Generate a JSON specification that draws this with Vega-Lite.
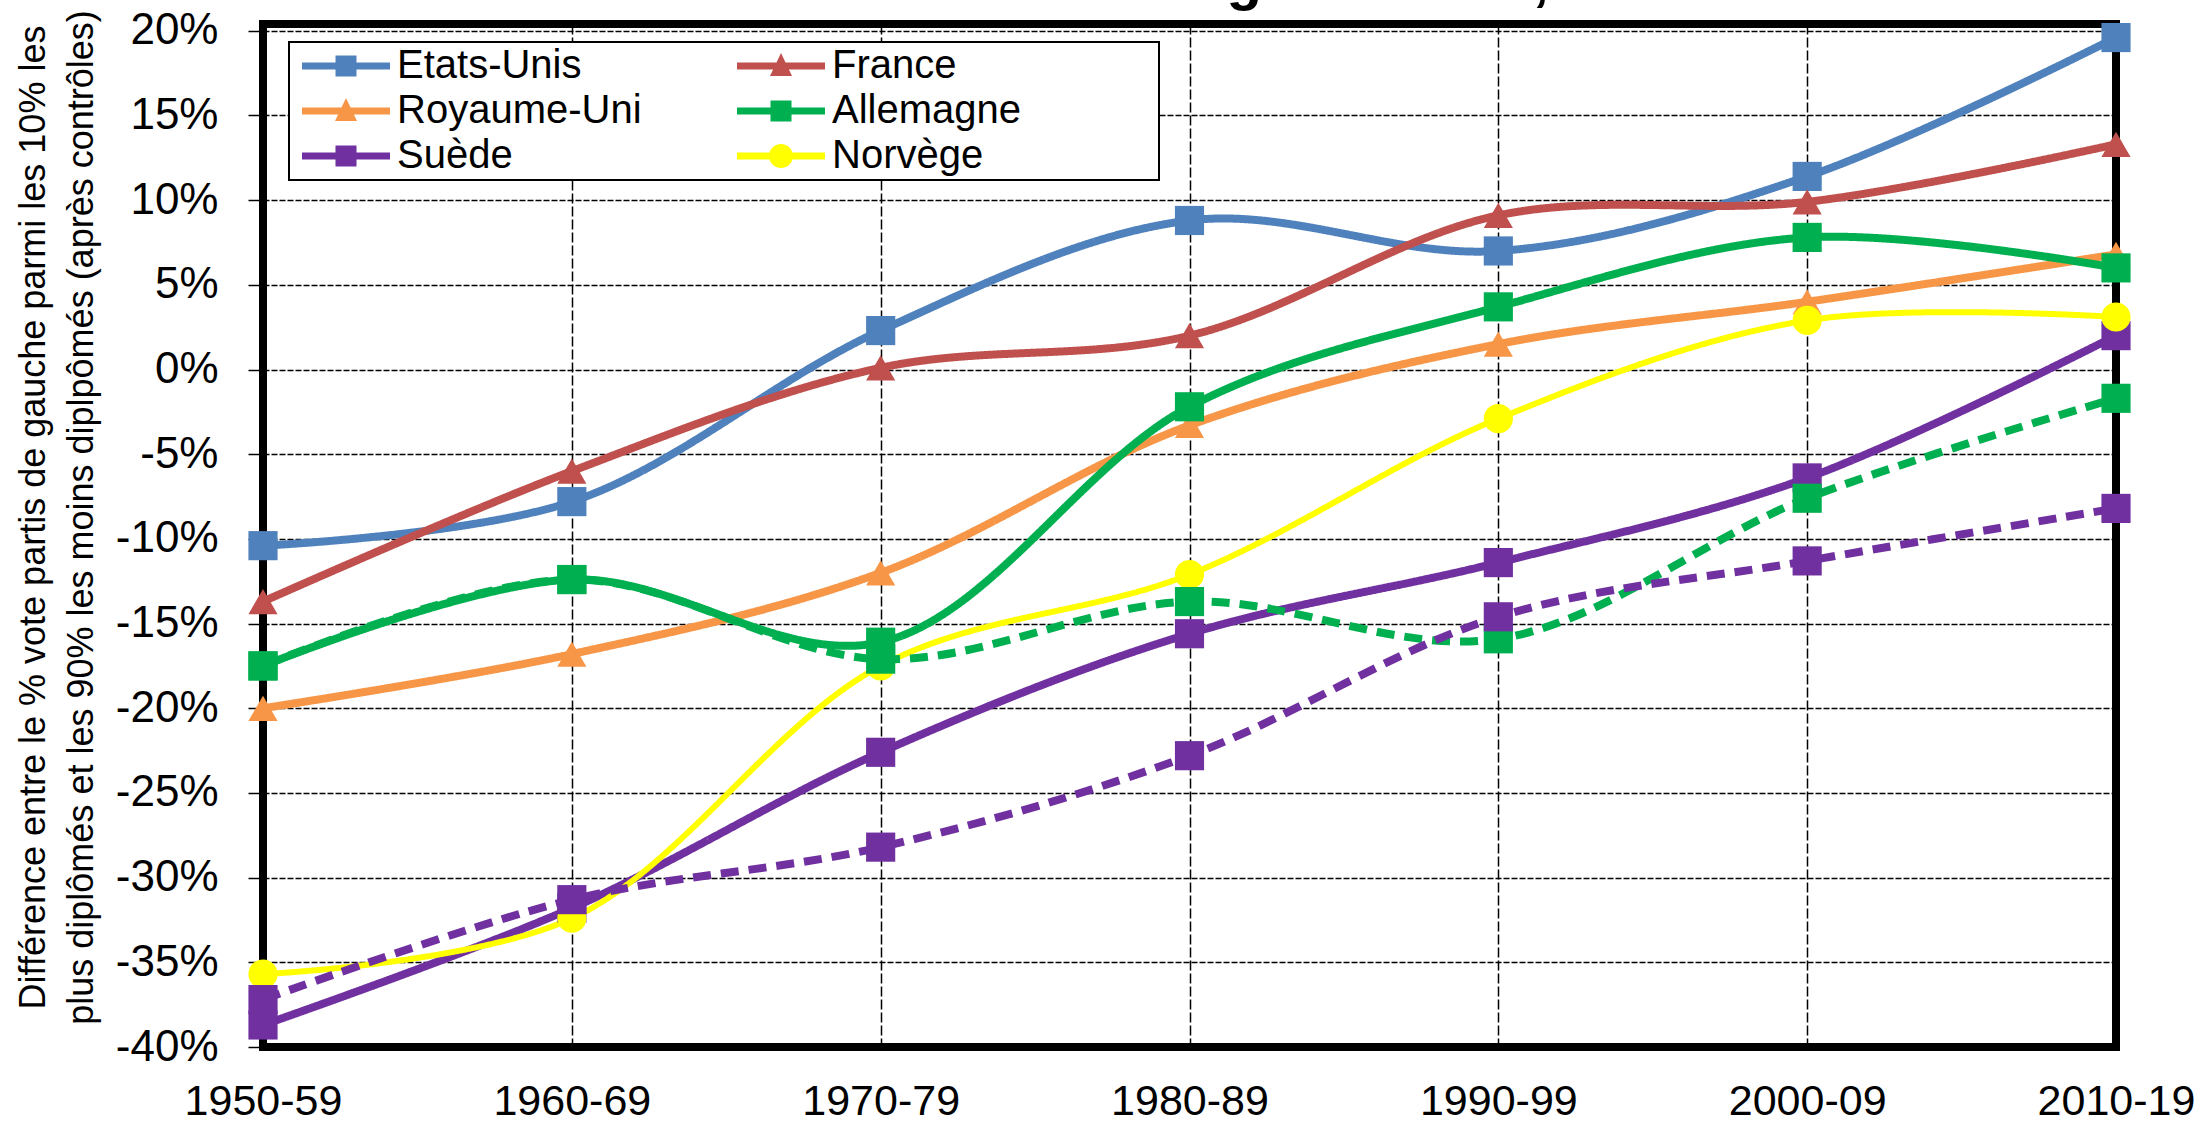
{
  "$schema": "https://vega.github.io/schema/vega-lite/v6.json",
  "width": 1853,
  "height": 1023,
  "autosize": {"type": "none"},
  "padding": {"left": 263, "top": 24, "right": 95, "bottom": 78},
  "background": "white",
  "title": {
    "text": "Le retournement du clivage éducatif, 1950-2020",
    "font": "Liberation Sans",
    "fontSize": 58,
    "fontWeight": "bold",
    "color": "black",
    "anchor": "middle",
    "frame": "group",
    "offset": -22,
    "dy": 26,
    "baseline": "alphabetic"
  },
  "config": {
    "view": {"stroke": "black", "strokeWidth": 8},
    "font": "Liberation Sans",
    "legend": {
      "orient": "none",
      "legendX": 26,
      "legendY": 18,
      "direction": "horizontal",
      "columns": 2,
      "columnPadding": 86,
      "rowPadding": 5,
      "labelFont": "Liberation Sans",
      "labelFontSize": 40,
      "labelColor": "black",
      "labelOffset": 64,
      "labelLimit": 800,
      "symbolSize": 1600,
      "symbolStrokeWidth": 0,
      "symbolOpacity": 1,
      "strokeColor": "black",
      "fillColor": "white",
      "padding": 4
    }
  },
  "data": {
    "values": [
      {"period": "1950-59", "country": "Etats-Unis", "type": "principal", "value": -10.4},
      {"period": "1960-69", "country": "Etats-Unis", "type": "principal", "value": -7.8},
      {"period": "1970-79", "country": "Etats-Unis", "type": "principal", "value": 2.3},
      {"period": "1980-89", "country": "Etats-Unis", "type": "principal", "value": 8.8},
      {"period": "1990-99", "country": "Etats-Unis", "type": "principal", "value": 7.0},
      {"period": "2000-09", "country": "Etats-Unis", "type": "principal", "value": 11.4},
      {"period": "2010-19", "country": "Etats-Unis", "type": "principal", "value": 19.6},
      {"period": "1950-59", "country": "France", "type": "principal", "value": -13.7},
      {"period": "1960-69", "country": "France", "type": "principal", "value": -6.0},
      {"period": "1970-79", "country": "France", "type": "principal", "value": 0.1},
      {"period": "1980-89", "country": "France", "type": "principal", "value": 2.0},
      {"period": "1990-99", "country": "France", "type": "principal", "value": 9.1},
      {"period": "2000-09", "country": "France", "type": "principal", "value": 9.9},
      {"period": "2010-19", "country": "France", "type": "principal", "value": 13.3},
      {"period": "1950-59", "country": "Royaume-Uni", "type": "principal", "value": -20.0},
      {"period": "1960-69", "country": "Royaume-Uni", "type": "principal", "value": -16.8},
      {"period": "1970-79", "country": "Royaume-Uni", "type": "principal", "value": -12.0},
      {"period": "1980-89", "country": "Royaume-Uni", "type": "principal", "value": -3.3},
      {"period": "1990-99", "country": "Royaume-Uni", "type": "principal", "value": 1.5},
      {"period": "2000-09", "country": "Royaume-Uni", "type": "principal", "value": 4.0},
      {"period": "2010-19", "country": "Royaume-Uni", "type": "principal", "value": 6.8},
      {"period": "1950-59", "country": "Allemagne", "type": "principal", "value": -17.5},
      {"period": "1960-69", "country": "Allemagne", "type": "principal", "value": -12.4},
      {"period": "1970-79", "country": "Allemagne", "type": "principal", "value": -16.1},
      {"period": "1980-89", "country": "Allemagne", "type": "principal", "value": -2.2},
      {"period": "1990-99", "country": "Allemagne", "type": "principal", "value": 3.7},
      {"period": "2000-09", "country": "Allemagne", "type": "principal", "value": 7.8},
      {"period": "2010-19", "country": "Allemagne", "type": "principal", "value": 6.0},
      {"period": "1950-59", "country": "Suède", "type": "principal", "value": -38.7},
      {"period": "1960-69", "country": "Suède", "type": "principal", "value": -31.8},
      {"period": "1970-79", "country": "Suède", "type": "principal", "value": -22.6},
      {"period": "1980-89", "country": "Suède", "type": "principal", "value": -15.6},
      {"period": "1990-99", "country": "Suède", "type": "principal", "value": -11.4},
      {"period": "2000-09", "country": "Suède", "type": "principal", "value": -6.4},
      {"period": "2010-19", "country": "Suède", "type": "principal", "value": 2.0},
      {"period": "1950-59", "country": "Norvège", "type": "principal", "value": -35.7},
      {"period": "1960-69", "country": "Norvège", "type": "principal", "value": -32.4},
      {"period": "1970-79", "country": "Norvège", "type": "principal", "value": -17.5},
      {"period": "1980-89", "country": "Norvège", "type": "principal", "value": -12.1},
      {"period": "1990-99", "country": "Norvège", "type": "principal", "value": -2.9},
      {"period": "2000-09", "country": "Norvège", "type": "principal", "value": 2.9},
      {"period": "2010-19", "country": "Norvège", "type": "principal", "value": 3.1},
      {"period": "1950-59", "country": "Allemagne", "type": "variante", "value": -17.5},
      {"period": "1960-69", "country": "Allemagne", "type": "variante", "value": -12.4},
      {"period": "1970-79", "country": "Allemagne", "type": "variante", "value": -17.1},
      {"period": "1980-89", "country": "Allemagne", "type": "variante", "value": -13.7},
      {"period": "1990-99", "country": "Allemagne", "type": "variante", "value": -15.9},
      {"period": "2000-09", "country": "Allemagne", "type": "variante", "value": -7.6},
      {"period": "2010-19", "country": "Allemagne", "type": "variante", "value": -1.7},
      {"period": "1950-59", "country": "Suède", "type": "variante", "value": -37.2},
      {"period": "1960-69", "country": "Suède", "type": "variante", "value": -31.3},
      {"period": "1970-79", "country": "Suède", "type": "variante", "value": -28.2},
      {"period": "1980-89", "country": "Suède", "type": "variante", "value": -22.8},
      {"period": "1990-99", "country": "Suède", "type": "variante", "value": -14.6},
      {"period": "2000-09", "country": "Suède", "type": "variante", "value": -11.3},
      {"period": "2010-19", "country": "Suède", "type": "variante", "value": -8.2}
    ]
  },
  "encoding": {
    "x": {
      "field": "period",
      "type": "ordinal",
      "scale": {"type": "point", "padding": 0},
      "axis": {
        "title": null,
        "labelAngle": 0,
        "labelFont": "Liberation Sans",
        "labelFontSize": 43,
        "labelColor": "black",
        "ticks": false,
        "tickSize": 0,
        "labelPadding": 33,
        "domain": false,
        "grid": true,
        "gridColor": "black",
        "gridWidth": 1.5,
        "gridDash": [10, 3],
        "gridOpacity": 1
      }
    },
    "y": {
      "field": "value",
      "type": "quantitative",
      "scale": {"domain": [-40, 20.4], "nice": false, "zero": false},
      "axis": {
        "values": [-40, -35, -30, -25, -20, -15, -10, -5, 0, 5, 10, 15, 20],
        "labelExpr": "datum.value + '%'",
        "labelFont": "Liberation Sans",
        "labelFontSize": 44,
        "labelColor": "black",
        "labelFlush": false,
        "labelOverlap": false,
        "tickSize": 15,
        "tickColor": "black",
        "tickWidth": 1.5,
        "labelPadding": 30,
        "domain": false,
        "grid": true,
        "gridColor": "black",
        "gridWidth": 1.5,
        "gridDash": [6, 2],
        "gridOpacity": 1,
        "title": [
          "Différence entre le % vote partis de gauche parmi les 10% les",
          "plus diplômés et les 90% les moins diplpômés (après contrôles)"
        ],
        "titleFont": "Liberation Sans",
        "titleFontSize": 36,
        "titleFontWeight": "normal",
        "titleColor": "black",
        "titleLineHeight": 48,
        "titleAngle": 270,
        "titleAlign": "center",
        "titleBaseline": "middle",
        "titleX": -230,
        "titleY": 493
      }
    }
  },
  "layer": [
    {
      "mark": {"type": "line", "interpolate": "catmull-rom", "strokeCap": "butt", "strokeJoin": "round"},
      "encoding": {
        "color": {
          "field": "country",
          "type": "nominal",
          "scale": {
            "domain": ["Etats-Unis", "France", "Royaume-Uni", "Allemagne", "Suède", "Norvège"],
            "range": ["#4F81BD", "#C0504D", "#F79646", "#00B050", "#7030A0", "#FFFF00"]
          },
          "legend": {
            "title": null,
            "labelExpr": "datum.label === 'Allemagne' ? datum.label + '\u00a0\u00a0\u00a0\u00a0\u00a0\u00a0\u00a0\u00a0\u00a0\u00a0\u00a0\u00a0\u200b' : datum.label",
            "encode": {
              "symbols": {
                "update": {
                  "shape": {"signal": "(datum.value === 'France' || datum.value === 'Royaume-Uni') ? 'M-0.55,-0.175H3.85V0.175H-0.55Z M1.65,-0.65L2.2,0.5L1.1,0.5Z' : datum.value === 'Norvège' ? 'M-0.55,-0.175H3.85V0.175H-0.55Z M1.05,0A0.6,0.6 0 1,1 2.25,0A0.6,0.6 0 1,1 1.05,0Z' : 'M-0.55,-0.175H3.85V0.175H-0.55Z M1.125,-0.525H2.175V0.525H1.125Z'"},
                  "strokeWidth": {"value": 0},
                  "opacity": {"value": 1}
                }
              },
              "legend": {"update": {"strokeWidth": {"value": 2}}}
            }
          }
        },
        "detail": [{"field": "country"}, {"field": "type"}],
        "strokeDash": {
          "field": "type",
          "type": "nominal",
          "scale": {"domain": ["principal", "variante"], "range": [[1, 0], [18, 10]]},
          "legend": null
        },
        "strokeWidth": {"condition": {"test": "datum.country === 'Norvège'", "value": 6}, "value": 8}
      }
    },
    {
      "mark": {"type": "rule", "color": "black", "strokeWidth": 11},
      "encoding": {"y": {"datum": 0}}
    },
    {
      "mark": {"type": "point", "filled": true, "opacity": 1, "strokeWidth": 0},
      "encoding": {
        "color": {
          "field": "country",
          "type": "nominal",
          "legend": {
            "title": null,
            "labelExpr": "datum.label === 'Allemagne' ? datum.label + '\u00a0\u00a0\u00a0\u00a0\u00a0\u00a0\u00a0\u00a0\u00a0\u00a0\u00a0\u00a0\u200b' : datum.label",
            "encode": {
              "symbols": {
                "update": {
                  "shape": {"signal": "(datum.value === 'France' || datum.value === 'Royaume-Uni') ? 'M-0.55,-0.175H3.85V0.175H-0.55Z M1.65,-0.65L2.2,0.5L1.1,0.5Z' : datum.value === 'Norvège' ? 'M-0.55,-0.175H3.85V0.175H-0.55Z M1.05,0A0.6,0.6 0 1,1 2.25,0A0.6,0.6 0 1,1 1.05,0Z' : 'M-0.55,-0.175H3.85V0.175H-0.55Z M1.125,-0.525H2.175V0.525H1.125Z'"},
                  "strokeWidth": {"value": 0},
                  "opacity": {"value": 1}
                }
              },
              "legend": {"update": {"strokeWidth": {"value": 2}}}
            }
          }
        },
        "shape": {
          "condition": [
            {"test": "datum.country === 'France' || datum.country === 'Royaume-Uni'", "value": "triangle-up"},
            {"test": "datum.country === 'Norvège'", "value": "circle"}
          ],
          "value": "square"
        },
        "size": {"value": 850}
      }
    }
  ]
}
